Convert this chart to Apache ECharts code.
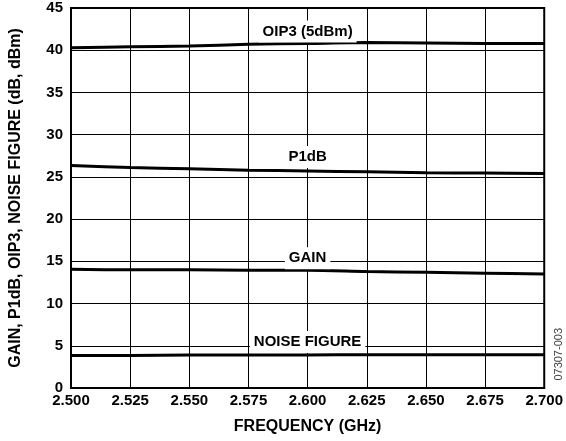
<!DOCTYPE html>
<html>
<head>
<meta charset="utf-8">
<script src="https://cdn.jsdelivr.net/npm/echarts@6/dist/echarts.min.js"></script>
<style>
  html, body { margin: 0; padding: 0; background: #fff; }
  #chart { width: 566px; height: 441px; }
</style>
</head>
<body>
<div id="chart"></div>
<script>
// frequency points (GHz)
const freq = [2.500, 2.525, 2.550, 2.575, 2.600, 2.625, 2.650, 2.675, 2.700];
const oip3 = [40.3, 40.4, 40.5, 40.7, 40.8, 40.9, 40.85, 40.8, 40.8];
const p1db = [26.35, 26.1, 25.95, 25.8, 25.7, 25.6, 25.5, 25.45, 25.4];
const gain = [14.05, 14.0, 14.0, 13.95, 13.95, 13.8, 13.7, 13.6, 13.5];
const noiseFigure = [3.85, 3.85, 3.92, 3.9, 3.9, 3.95, 3.95, 3.95, 3.95];
const labelFreq = 2.6;

const chart = echarts.init(document.getElementById('chart'));

const font = 'Liberation Sans, Arial, sans-serif';

function pairs(ys) {
    return freq.map(function (f, i) { return [f, ys[i]]; });
}

function curve(name, ys, labelText, dy) {
    const idx = freq.indexOf(labelFreq);
    return {
        name: name,
        type: 'line',
        data: pairs(ys),
        symbol: 'none',
        smooth: 0.3,
        lineStyle: { color: '#000', width: 3 },
        z: 3,
        markPoint: {
            symbol: 'rect',
            symbolSize: 0,
            data: [{ coord: [labelFreq, ys[idx]] }],
            label: {
                show: true,
                formatter: labelText,
                offset: [0, dy],
                color: '#000',
                fontFamily: font,
                fontWeight: 'bold',
                fontSize: 15,
                backgroundColor: '#fff',
                padding: [4, 4, 3, 4]
            },
            z: 4
        }
    };
}

const option = {
    animation: false,
    backgroundColor: '#fff',
    grid: {
        left: 71,
        right: 20,
        top: 8,
        bottom: 53,
        show: true,
        borderColor: '#000',
        borderWidth: 2
    },
    xAxis: {
        type: 'value',
        min: 2.5,
        max: 2.7,
        interval: 0.025,
        name: 'FREQUENCY (GHz)',
        nameLocation: 'middle',
        nameGap: 31,
        nameTextStyle: { color: '#000', fontFamily: font, fontWeight: 'bold', fontSize: 16 },
        axisLine: { lineStyle: { color: '#000', width: 2 } },
        axisTick: { show: false },
        axisLabel: {
            color: '#000', fontFamily: font, fontWeight: 'bold', fontSize: 15, margin: 5,
            formatter: function (v) { return v.toFixed(3); }
        },
        splitLine: { lineStyle: { color: '#000', width: 1 } }
    },
    yAxis: {
        type: 'value',
        min: 0,
        max: 45,
        interval: 5,
        name: 'GAIN, P1dB, OIP3, NOISE FIGURE (dB, dBm)',
        nameLocation: 'middle',
        nameGap: 47,
        nameTextStyle: { color: '#000', fontFamily: font, fontWeight: 'bold', fontSize: 16 },
        axisLine: { lineStyle: { color: '#000', width: 2 } },
        axisTick: { show: false },
        axisLabel: { color: '#000', fontFamily: font, fontWeight: 'bold', fontSize: 15, margin: 8 },
        splitLine: { lineStyle: { color: '#000', width: 1 } }
    },
    graphic: [{
        type: 'text',
        right: 2,
        top: 328,
        rotation: Math.PI / 2,
        style: {
            text: '07307-003',
            fill: '#444',
            font: '11px ' + font
        }
    }],
    series: [
        curve('OIP3', oip3, 'OIP3 (5dBm)', -12),
        curve('P1dB', p1db, 'P1dB', -14),
        curve('GAIN', gain, 'GAIN', -12),
        curve('NOISE FIGURE', noiseFigure, 'NOISE FIGURE', -13)
    ]
};

chart.setOption(option);
window.addEventListener('resize', function () {
    chart.resize();
});
</script>
</body>
</html>
